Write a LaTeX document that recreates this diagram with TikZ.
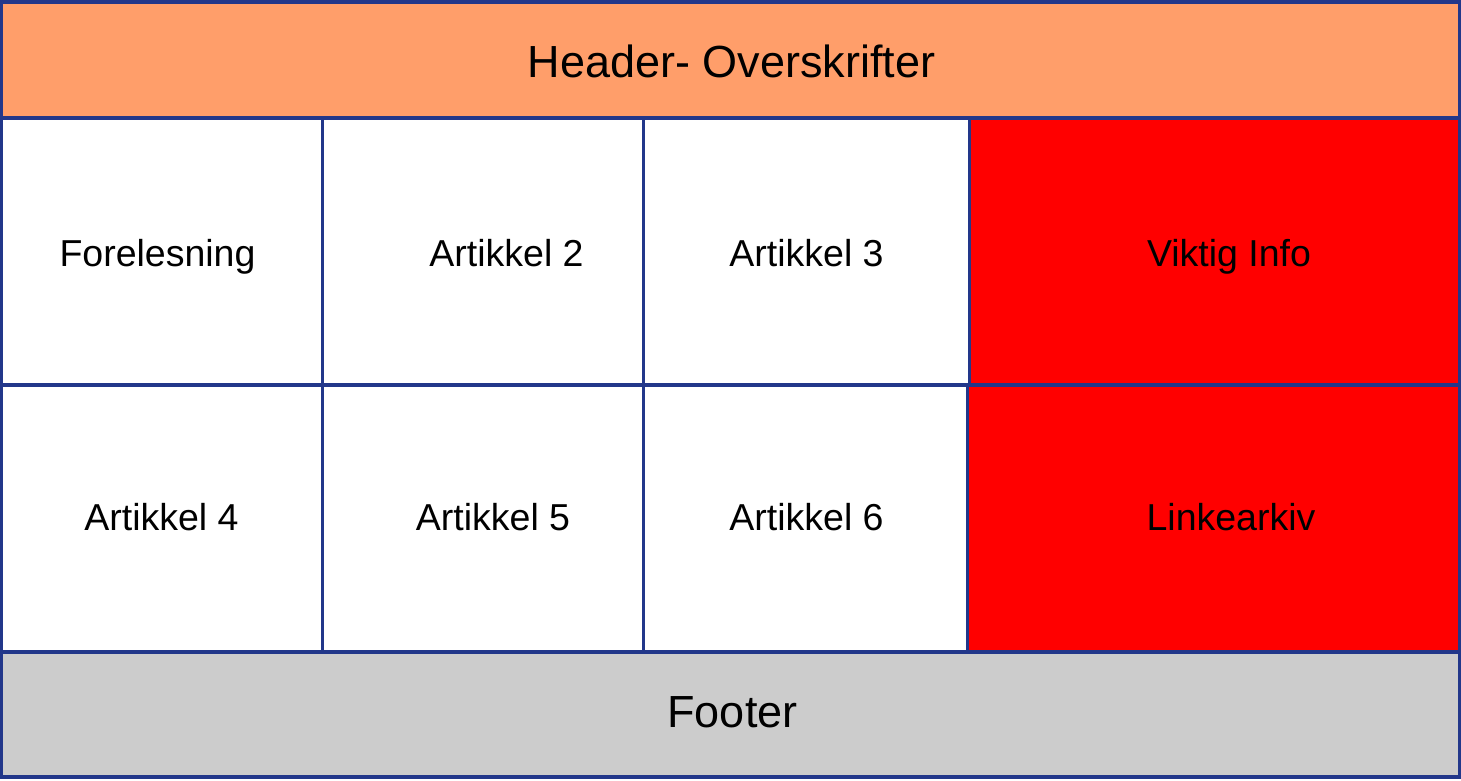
\documentclass[tikz,border=0pt]{standalone}
\usepackage{fontspec}
\setmainfont{Liberation Sans}
\definecolor{edge}{HTML}{22378A}
\definecolor{hdr}{HTML}{FF9E6A}
\definecolor{ftr}{HTML}{CCCCCC}
\definecolor{warn}{HTML}{FF0000}
\begin{document}
\begin{tikzpicture}[x=1pt,y=-1pt,
  cell/.style={draw=edge,line width=3.4pt,anchor=north west,inner sep=0pt,outer sep=0pt},
  big/.style={font=\fontsize{45}{50}\selectfont,inner sep=0pt,anchor=base},
  small/.style={font=\fontsize{37.5}{42}\selectfont,inner sep=0pt,anchor=base}]
\useasboundingbox (0,0) rectangle (1461,780);
\fill[white] (0,0) rectangle (1461,780);
% boxes
\node[cell,fill=hdr,minimum width=1458pt,minimum height=116pt] (header) at (1.5,2) {};
\node[cell,fill=white,minimum width=321pt,minimum height=267pt] (c11) at (1.5,118) {};
\node[cell,fill=white,minimum width=321pt,minimum height=267pt] (c12) at (322.5,118) {};
\node[cell,fill=white,minimum width=326pt,minimum height=267pt] (c13) at (643.5,118) {};
\node[cell,fill=warn,minimum width=490pt,minimum height=267pt] (c14) at (969.5,118) {};
\node[cell,fill=white,minimum width=321pt,minimum height=267pt] (c21) at (1.5,385) {};
\node[cell,fill=white,minimum width=321pt,minimum height=267pt] (c22) at (322.5,385) {};
\node[cell,fill=white,minimum width=324pt,minimum height=267pt] (c23) at (643.5,385) {};
\node[cell,fill=warn,minimum width=492pt,minimum height=267pt] (c24) at (967.5,385) {};
\node[cell,fill=ftr,minimum width=1458pt,minimum height=125pt] (footer) at (1.5,652) {};
% texts
\node[big] (th) at (731.5,77) {Header- Overskrifter};
\node[big] (tf) at (732.5,727) {Footer};
\node[small] (t11) at (157.5,266) {Forelesning};
\node[small] (t12) at (506.5,266) {Artikkel 2};
\node[small] (t13) at (806.5,266) {Artikkel 3};
\node[small] (t14) at (1229,266) {Viktig Info};
\node[small] (t21) at (161.5,530) {Artikkel 4};
\node[small] (t22) at (493,530) {Artikkel 5};
\node[small] (t23) at (806.5,530) {Artikkel 6};
\node[small] (t24) at (1231,530) {Linkearkiv};
\end{tikzpicture}
\end{document}
